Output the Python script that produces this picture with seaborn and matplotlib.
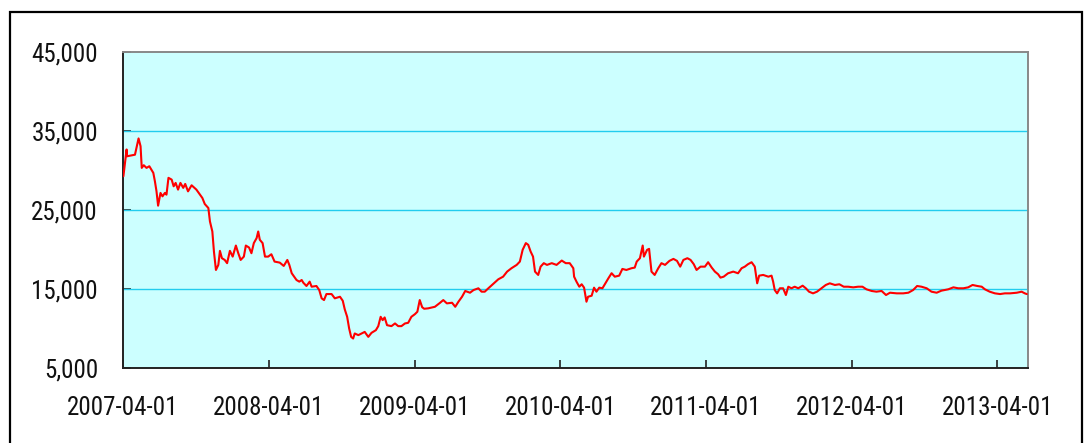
import pandas as pd
import matplotlib
matplotlib.use("Agg")
import matplotlib.pyplot as plt
import matplotlib.dates as mdates
from matplotlib.patches import Rectangle
from matplotlib.ticker import FuncFormatter
from matplotlib import font_manager
import seaborn as sns

# values
dates = [
    "2007-04-02", "2007-04-10", "2007-04-11", "2007-04-26", "2007-05-01", "2007-05-10",
    "2007-05-15", "2007-05-18", "2007-05-23", "2007-05-30", "2007-06-06", "2007-06-16",
    "2007-06-20", "2007-06-24", "2007-06-28", "2007-07-04", "2007-07-09", "2007-07-15",
    "2007-07-19", "2007-07-24", "2007-08-01", "2007-08-06", "2007-08-11", "2007-08-17",
    "2007-08-23", "2007-08-30", "2007-09-04", "2007-09-11", "2007-09-20", "2007-10-02",
    "2007-10-11", "2007-10-17", "2007-10-23", "2007-11-01", "2007-11-05", "2007-11-11",
    "2007-11-15", "2007-11-20", "2007-11-26", "2007-11-30", "2007-12-05", "2007-12-12",
    "2007-12-18", "2007-12-25", "2008-01-01", "2008-01-09", "2008-01-15", "2008-01-21",
    "2008-01-29", "2008-02-03", "2008-02-11", "2008-02-17", "2008-02-23", "2008-03-01",
    "2008-03-05", "2008-03-09", "2008-03-16", "2008-03-22", "2008-03-30", "2008-04-07",
    "2008-04-15", "2008-04-28", "2008-05-08", "2008-05-17", "2008-05-22", "2008-05-28",
    "2008-06-02", "2008-06-09", "2008-06-16", "2008-06-22", "2008-06-26", "2008-07-04",
    "2008-07-12", "2008-07-17", "2008-07-29", "2008-08-05", "2008-08-11", "2008-08-17",
    "2008-08-23", "2008-09-05", "2008-09-13", "2008-09-26", "2008-10-03", "2008-10-08",
    "2008-10-14", "2008-10-19", "2008-10-24", "2008-10-29", "2008-11-02", "2008-11-11",
    "2008-11-19", "2008-11-27", "2008-12-06", "2008-12-14", "2008-12-25", "2008-12-31",
    "2009-01-06", "2009-01-11", "2009-01-16", "2009-01-22", "2009-02-02", "2009-02-11",
    "2009-02-19", "2009-02-27", "2009-03-08", "2009-03-16", "2009-03-24", "2009-04-02",
    "2009-04-08", "2009-04-14", "2009-04-20", "2009-04-25", "2009-05-05", "2009-05-22",
    "2009-06-04", "2009-06-12", "2009-06-21", "2009-07-04", "2009-07-12", "2009-07-20",
    "2009-07-29", "2009-08-06", "2009-08-18", "2009-08-27", "2009-09-08", "2009-09-16",
    "2009-09-24", "2009-10-03", "2009-10-15", "2009-10-28", "2009-11-09", "2009-11-19",
    "2009-11-30", "2009-12-13", "2009-12-21", "2009-12-28", "2010-01-05", "2010-01-11",
    "2010-01-17", "2010-01-23", "2010-01-28", "2010-02-05", "2010-02-11", "2010-02-19",
    "2010-02-27", "2010-03-11", "2010-03-23", "2010-04-05", "2010-04-15", "2010-04-25",
    "2010-05-04", "2010-05-06", "2010-05-12", "2010-05-19", "2010-05-25", "2010-05-31",
    "2010-06-06", "2010-06-10", "2010-06-19", "2010-06-25", "2010-07-01", "2010-07-08",
    "2010-07-16", "2010-07-22", "2010-07-31", "2010-08-08", "2010-08-16", "2010-08-27",
    "2010-09-04", "2010-09-14", "2010-09-27", "2010-10-05", "2010-10-10", "2010-10-18",
    "2010-10-25", "2010-10-28", "2010-11-05", "2010-11-10", "2010-11-16", "2010-11-24",
    "2010-12-03", "2010-12-11", "2010-12-20", "2010-12-31", "2011-01-10", "2011-01-19",
    "2011-01-27", "2011-02-04", "2011-02-14", "2011-02-22", "2011-03-02", "2011-03-09",
    "2011-03-19", "2011-03-30", "2011-04-07", "2011-04-16", "2011-04-24", "2011-05-02",
    "2011-05-08", "2011-05-16", "2011-05-27", "2011-06-09", "2011-06-21", "2011-06-30",
    "2011-07-08", "2011-07-16", "2011-07-25", "2011-08-02", "2011-08-08", "2011-08-13",
    "2011-08-23", "2011-09-05", "2011-09-13", "2011-09-17", "2011-09-21", "2011-09-27",
    "2011-10-04", "2011-10-12", "2011-10-19", "2011-10-25", "2011-11-02", "2011-11-10",
    "2011-11-19", "2011-11-30", "2011-12-08", "2011-12-16", "2011-12-26", "2012-01-05",
    "2012-01-16", "2012-01-27", "2012-02-06", "2012-02-19", "2012-03-01", "2012-03-12",
    "2012-03-23", "2012-04-05", "2012-04-17", "2012-04-28", "2012-05-08", "2012-05-21",
    "2012-06-02", "2012-06-15", "2012-06-26", "2012-07-06", "2012-07-23", "2012-08-08",
    "2012-08-21", "2012-09-02", "2012-09-12", "2012-09-23", "2012-10-06", "2012-10-18",
    "2012-10-31", "2012-11-12", "2012-11-29", "2012-12-12", "2012-12-24", "2013-01-06",
    "2013-01-18", "2013-01-29", "2013-02-10", "2013-02-21", "2013-03-01", "2013-03-13",
    "2013-03-26", "2013-04-08", "2013-04-20", "2013-05-03", "2013-05-20", "2013-06-01",
    "2013-06-09", "2013-06-14",
]
values = [
    29270, 32660, 31800, 31940, 32000, 34060,
    33080, 30330, 30670, 30330, 30540, 29700,
    28630, 27360, 25550, 27160, 26730, 27160,
    26940, 29070, 28850, 28000, 28430, 27580,
    28430, 27800, 28300, 27360, 28130, 27580,
    26940, 26520, 25760, 25250, 23550, 22280,
    19740, 17410, 18050, 19830, 18900, 18680,
    18270, 19830, 19100, 20500, 19530, 18680,
    19100, 20500, 20250, 19530, 20810, 21440,
    22280, 21230, 20810, 19100, 19100, 19400,
    18470, 18340, 17920, 18680, 18050, 17000,
    16650, 16140, 15930, 16140, 15800, 15380,
    15930, 15290, 15380, 14870, 13820, 13600,
    14360, 14360, 13820, 14020, 13510, 12420,
    11480, 10000, 8940, 8730, 9370, 9160,
    9370, 9570, 8940, 9450, 9790, 10300,
    11480, 11060, 11400, 10420, 10300, 10640,
    10300, 10300, 10640, 10720, 11480, 11820,
    12120, 13600, 12700, 12500, 12550, 12750,
    13260, 13600, 13180, 13260, 12750, 13390,
    14020, 14750, 14530, 14870, 15090, 14660,
    14660, 15090, 15640, 16230, 16560, 17200,
    17630, 18050, 18470, 19960, 20810, 20590,
    19740, 19100, 17200, 16780, 17830, 18270,
    18050, 18270, 18050, 18600, 18270, 18270,
    17630, 16560, 15930, 15290, 15600, 15170,
    13390, 14020, 14150, 15170, 14660, 15170,
    15090, 15600, 16360, 17000, 16560, 16690,
    17540, 17410, 17630, 17710, 18470, 18900,
    20500, 19100, 19960, 20080, 17200, 16780,
    17630, 18270, 18050, 18560, 18810, 18560,
    17830, 18680, 18900, 18680, 18140, 17410,
    17830, 17830, 18390, 17710, 17200, 16870,
    16440, 16560, 16990, 17200, 16990, 17630,
    17830, 18140, 18390, 17830, 15720, 16690,
    16780, 16560, 16690, 15930, 14870, 14450,
    15090, 15090, 14240, 15290, 15090, 15290,
    15090, 15420, 15090, 14660, 14450, 14660,
    15090, 15510, 15720, 15510, 15600, 15290,
    15290, 15210, 15290, 15290, 14960, 14750,
    14660, 14750, 14240, 14530, 14450, 14450,
    14530, 14870, 15380, 15290, 15090, 14660,
    14530, 14790, 14960, 15210, 15090, 15090,
    15210, 15510, 15380, 15290, 14960, 14660,
    14450, 14360, 14450, 14450, 14530, 14660,
    14450, 14360,
]
tick_dates = ["2007-04-01", "2008-04-01", "2009-04-01", "2010-04-01",
              "2011-04-01", "2012-04-01", "2013-04-01"]
y_ticks = [5000, 15000, 25000, 35000, 45000]

df = pd.DataFrame({"date": pd.to_datetime(dates), "value": values})

sns.set_theme(style="white")

# a condensed face if one is around, the reference uses a narrow font
installed = {f.name for f in font_manager.fontManager.ttflist}
families = [f for f in ["Liberation Sans Narrow", "DejaVu Sans Condensed",
                        "Roboto Condensed", "Open Sans Condensed"] if f in installed]
families += ["Liberation Sans", "DejaVu Sans"]
plt.rcParams["font.family"] = families
print(families)

fig = plt.figure(figsize=(10.87, 4.43), dpi=100)
ax = fig.add_axes([123 / 1087, 1 - 368 / 443, (1028 - 123) / 1087, (368 - 52) / 443])
ax.set_facecolor("#CCFFFF")

# frame around the whole chart
fig.patches.append(Rectangle((10 / 1087, -0.05), (1082 - 10) / 1087, 1.05 - 12 / 443,
                             transform=fig.transFigure, fill=False,
                             edgecolor="black", linewidth=1.6))

for y in [15000, 25000, 35000]:
    ax.axhline(y, color="#22CCEE", linewidth=1.0, zorder=1)

sns.lineplot(data=df, x="date", y="value", ax=ax, color="#FF0000",
             linewidth=1.5, zorder=3)

ax.set_xlim(pd.Timestamp("2007-04-01"), pd.Timestamp("2013-06-17"))
ax.set_ylim(5000, 45000)
ax.set_xticks(pd.to_datetime(tick_dates))
ax.xaxis.set_major_formatter(mdates.DateFormatter("%Y-%m-%d"))
ax.set_yticks(y_ticks)
ax.yaxis.set_major_formatter(FuncFormatter(lambda v, p: f"{int(v):,}"))
ax.set_xlabel("")
ax.set_ylabel("")

ax.tick_params(axis="both", direction="in", length=6, width=1.2, color="#222222",
               labelsize=18, labelcolor="#111111", left=True, bottom=True)
ax.tick_params(axis="y", pad=18)
ax.tick_params(axis="x", pad=20)

for side in ["left", "bottom"]:
    ax.spines[side].set_color("#222222")
    ax.spines[side].set_linewidth(1.4)
for side in ["top", "right"]:
    ax.spines[side].set_color("#888888")
    ax.spines[side].set_linewidth(1.4)

fig.savefig("out.png", dpi=100)
